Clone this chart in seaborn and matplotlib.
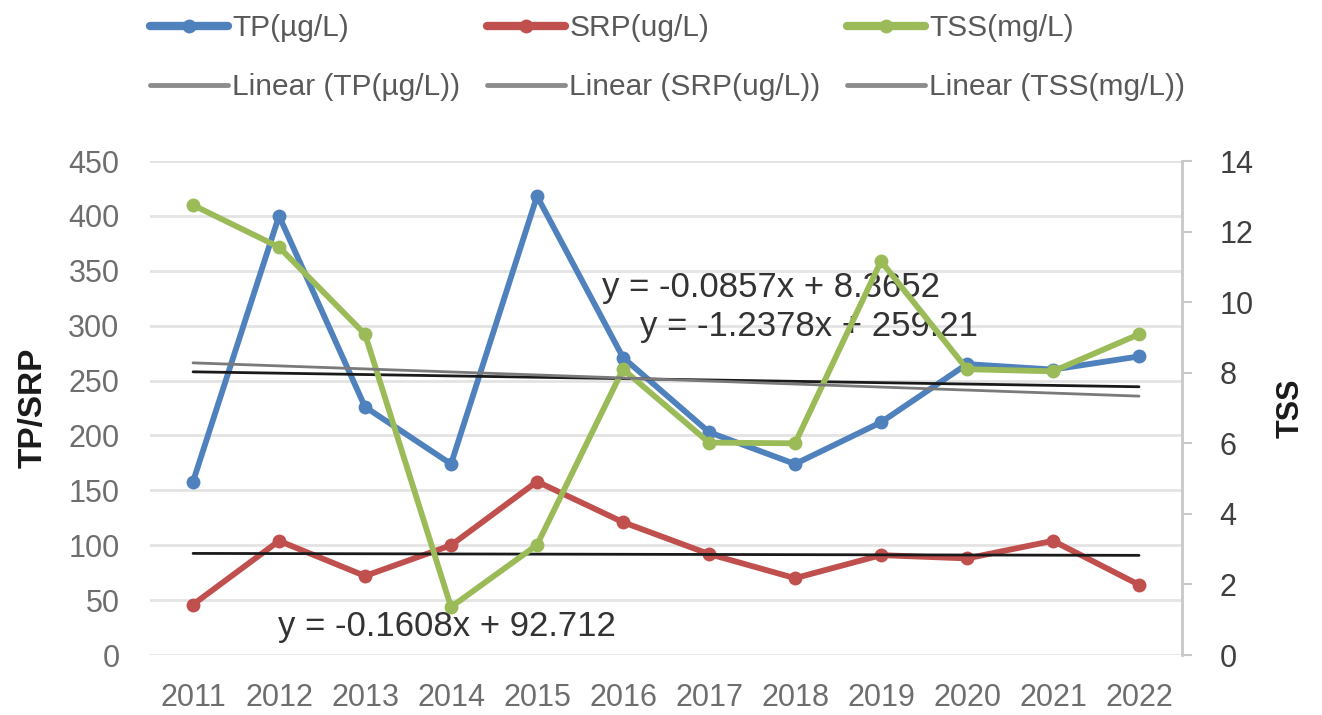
import matplotlib
matplotlib.use("Agg")
import matplotlib.pyplot as plt
import seaborn as sns
import numpy as np
import pandas as pd

# values
years = [2011, 2012, 2013, 2014, 2015, 2016, 2017, 2018, 2019, 2020, 2021, 2022]
tp = [158, 400, 226, 174, 418, 271, 203, 174, 212, 265, 260, 272]
srp = [46, 104, 72, 100, 158, 121, 92, 70, 91, 88, 104, 64]
tss = [12.75, 11.56, 9.09, 1.36, 3.12, 8.1, 6.02, 6.0, 11.16, 8.1, 8.04, 9.09]

# Excel trendline coefficients (x = 1..12)
tp_fit = [-1.2378, 259.21]
srp_fit = [-0.1608, 92.712]
tss_fit = [-0.0857, 8.3652]

sns.set_style("white")
plt.rcParams['font.family'] = ['Liberation Sans', 'DejaVu Sans']

df = pd.DataFrame({"year": years, "tp": tp, "srp": srp, "tss": tss})
idx = np.arange(1, len(years) + 1)
df["tp_lin"] = tp_fit[0] * idx + tp_fit[1]
df["srp_lin"] = srp_fit[0] * idx + srp_fit[1]
df["tss_lin"] = tss_fit[0] * idx + tss_fit[1]

fig = plt.figure(figsize=(13.22, 7.15), dpi=100)
ax = fig.add_axes([0.1135, 0.0839, 0.7806, 0.6909])
ax2 = ax.twinx()

blue, red, green = "#4f81bd", "#c0504d", "#9bbb59"
txt = "#6e6e6e"

kw = dict(linewidth=4.2, marker="o", markersize=10, markeredgewidth=0)
sns.lineplot(data=df, x="year", y="tp", ax=ax, color=blue, label="TP(µg/L)", **kw)
sns.lineplot(data=df, x="year", y="srp", ax=ax, color=red, label="SRP(ug/L)", **kw)
sns.lineplot(data=df, x="year", y="tss", ax=ax2, color=green, label="TSS(mg/L)", **kw)

sns.lineplot(data=df, x="year", y="tp_lin", ax=ax, color="#1a1a1a", linewidth=2,
             label="Linear (TP(µg/L))")
sns.lineplot(data=df, x="year", y="srp_lin", ax=ax, color="#1a1a1a", linewidth=2,
             label="Linear (SRP(ug/L))")
sns.lineplot(data=df, x="year", y="tss_lin", ax=ax2, color="#7a7a7a", linewidth=2,
             label="Linear (TSS(mg/L))")

ax.set_xlim(2010.5, 2022.5)
ax.set_ylim(0, 450)
ax2.set_ylim(0, 14)
ax.set_yticks(range(0, 451, 50))
ax2.set_yticks(range(0, 15, 2))
ax.set_xticks(years)

ax.grid(axis="y", color="#e3e3e3", linewidth=2)
ax.set_axisbelow(True)
for s in ax.spines.values():
    s.set_visible(False)
for s in ax2.spines.values():
    s.set_visible(False)
ax2.spines["right"].set_visible(True)
ax2.spines["right"].set_color("#c8c8c8")
ax2.spines["right"].set_linewidth(2)

ax.tick_params(axis="y", length=0, pad=22, labelsize=22, labelcolor=txt)
ax.tick_params(axis="x", length=0, pad=20, labelsize=22, labelcolor=txt)
ax2.tick_params(axis="y", length=7, width=1.5, color="#c8c8c8", pad=20, labelsize=22,
                labelcolor="#404040")

ax.set_xlabel("")
ax.set_ylabel("TP/SRP", fontsize=24, fontweight="bold", labelpad=14, color="#1a1a1a")
ax2.set_ylabel("TSS", fontsize=22, fontweight="bold", labelpad=16, color="#1a1a1a")

eq = dict(fontsize=25, color="#333333", va="center")
ax.text(2015.76, 335, "y = -0.0857x + 8.3652", **eq)
ax.text(2016.2, 299, "y = -1.2378x + 259.21", **eq)
ax.text(2011.99, 26, "y = -0.1608x + 92.712", **eq)

h1, l1 = ax.get_legend_handles_labels()
h2, l2 = ax2.get_legend_handles_labels()
ax.get_legend().remove()
ax2.get_legend().remove()
hd = dict(zip(l1 + l2, h1 + h2))
order = ["TP(µg/L)", "Linear (TP(µg/L))", "SRP(ug/L)", "Linear (SRP(ug/L))",
         "TSS(mg/L)", "Linear (TSS(mg/L))"]
leg_handles = []
for name in order:
    h = hd[name]
    if name.startswith("Linear"):
        h = plt.Line2D([], [], color="#8c8c8c", linewidth=3.5)
    else:
        h = plt.Line2D([], [], color=h.get_color(), linewidth=6, marker="o",
                       markersize=10, markeredgewidth=0)
    leg_handles.append(h)
fig.legend(leg_handles, order, loc="upper center", bbox_to_anchor=(0.505, 1.018),
           ncol=3, frameon=False, fontsize=21.5, labelcolor="#595959",
           handlelength=2.6, handletextpad=0.15, columnspacing=0.9, labelspacing=1.05)

fig.savefig("out.png", dpi=100)
